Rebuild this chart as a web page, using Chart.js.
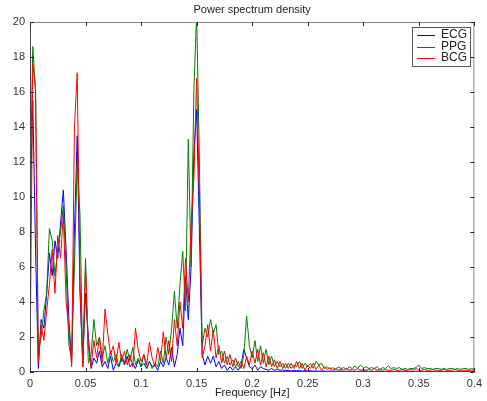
<!DOCTYPE html>
<html>
<head>
<meta charset="utf-8">
<script src="https://cdn.jsdelivr.net/npm/chart.js@4/dist/chart.umd.min.js"></script>
<style>
  html, body { margin: 0; padding: 0; background: #ffffff; }
  #wrap { width: 487px; height: 401px; }
</style>
</head>
<body>
<div id="wrap"><canvas id="psd" width="487" height="401"></canvas></div>
<script>
// frequency grid [Hz]
const freq = [
  0, 0.0025, 0.005, 0.0075, 0.01, 0.0125, 0.015, 0.0175, 0.02, 0.0225,
  0.025, 0.0275, 0.03, 0.0325, 0.035, 0.0375, 0.04, 0.0425, 0.045, 0.0475,
  0.05, 0.0525, 0.055, 0.0575, 0.06, 0.0625, 0.065, 0.0675, 0.07, 0.0725,
  0.075, 0.0775, 0.08, 0.0825, 0.085, 0.0875, 0.09, 0.0925, 0.095, 0.0975,
  0.1, 0.1025, 0.105, 0.1075, 0.11, 0.1125, 0.115, 0.1175, 0.12, 0.1225,
  0.125, 0.1275, 0.13, 0.1325, 0.135, 0.1375, 0.14, 0.1425, 0.145, 0.1475,
  0.15, 0.1525, 0.155, 0.1575, 0.16, 0.1625, 0.165, 0.1675, 0.17, 0.1725,
  0.175, 0.1775, 0.18, 0.1825, 0.185, 0.1875, 0.19, 0.1925, 0.195, 0.1975,
  0.2, 0.2025, 0.205, 0.2075, 0.21, 0.2125, 0.215, 0.2175, 0.22, 0.2225,
  0.225, 0.2275, 0.23, 0.2325, 0.235, 0.2375, 0.24, 0.2425, 0.245, 0.2475,
  0.25, 0.2525, 0.255, 0.2575, 0.26, 0.2625, 0.265, 0.2675, 0.27, 0.2725,
  0.275, 0.2775, 0.28, 0.2825, 0.285, 0.2875, 0.29, 0.2925, 0.295, 0.2975,
  0.3, 0.3025, 0.305, 0.3075, 0.31, 0.3125, 0.315, 0.3175, 0.32, 0.3225,
  0.325, 0.3275, 0.33, 0.3325, 0.335, 0.3375, 0.34, 0.3425, 0.345, 0.3475,
  0.35, 0.3525, 0.355, 0.3575, 0.36, 0.3625, 0.365, 0.3675, 0.37, 0.3725,
  0.375, 0.3775, 0.38, 0.3825, 0.385, 0.3875, 0.39, 0.3925, 0.395, 0.3975,
  0.4
];

const ecg = [
  9, 15.5, 7, 0.2, 3.0, 2.5, 4.5, 6.8, 5.5, 7.5,
  6.5, 8.5, 10.4, 7.0, 3.0, 0.5, 8.0, 13.5, 4.5, 0.5,
  4.5, 2.0, 0.2, 0.8, 0.5, 1.2, 0.3, 0.6, 0.2, 0.9,
  0.1, 0.5, 0.3, 0.8, 0.4, 0.9, 0.3, 0.5, 0.2, 0.7,
  0.3, 0.5, 0.2, 0.6, 0.3, 0.4, 0.1, 0.6, 0.3, 0.8,
  0.4, 1.4, 0.3, 1.0, 2.5, 1.5, 5.5, 3.0, 6.0, 12.5,
  15.0, 8.0, 1.0, 0.4, 0.9, 0.5, 0.9, 0.3, 0.6, 0.2,
  0.4, 0.1, 0.3, 0.1, 0.3, 0.1, 0.4, 1.3, 0.8, 0.3,
  0.2, 0.4, 0.1, 0.3, 0.2, 0.15, 0.1, 0.2, 0.1, 0.15,
  0.1, 0.12, 0.08, 0.1, 0.06, 0.1, 0.07, 0.09, 0.05, 0.08,
  0.06, 0.07, 0.05, 0.06, 0.04, 0.06, 0.05, 0.04, 0.05, 0.04,
  0.05, 0.04, 0.05, 0.03, 0.04, 0.05, 0.04, 0.03, 0.04, 0.05,
  0.04, 0.05, 0.03, 0.04, 0.03, 0.04, 0.05, 0.03, 0.04, 0.03,
  0.04, 0.03, 0.04, 0.03, 0.04, 0.05, 0.03, 0.04, 0.03, 0.04,
  0.03, 0.04, 0.03, 0.04, 0.03, 0.03, 0.04, 0.03, 0.04, 0.03,
  0.03, 0.04, 0.03, 0.03, 0.04, 0.03, 0.03, 0.04, 0.03, 0.03,
  0.03
];

const ppg = [
  10, 18.6, 16.0, 1.0, 2.0, 3.5, 4.5, 8.2, 7.5, 5.5,
  7.0, 8.0, 9.5, 6.0, 1.5, 0.8, 6.0, 12.0, 9.0, 0.3,
  6.5, 0.5, 1.0, 3.0, 1.5, 2.0, 0.8, 1.5, 0.5, 1.2,
  0.6, 1.0, 0.3, 1.0, 0.5, 1.3, 0.6, 1.4, 0.4, 0.8,
  0.3, 1.0, 0.2, 0.6, 0.2, 0.5, 0.3, 1.2, 0.5, 2.0,
  1.0, 2.5, 4.6, 2.5, 5.0, 6.9, 3.5, 13.3, 6.0, 16.0,
  20.5, 12.0, 1.5, 2.5, 2.0, 3.0, 2.2, 2.7, 1.0, 1.2,
  0.5, 0.9, 0.4, 0.7, 0.3, 0.6, 0.2, 1.0, 3.2, 1.5,
  0.8, 1.8, 0.6, 1.5, 0.5, 1.3, 0.4, 0.9, 0.3, 0.6,
  0.3, 0.5, 0.2, 0.5, 0.2, 0.4, 0.3, 0.6, 0.2, 0.5,
  0.3, 0.5, 0.2, 0.6, 0.4, 0.5, 0.2, 0.3, 0.15, 0.25,
  0.15, 0.3, 0.2, 0.25, 0.15, 0.3, 0.2, 0.35, 0.2, 0.4,
  0.25, 0.3, 0.2, 0.25, 0.2, 0.3, 0.15, 0.25, 0.2, 0.35,
  0.2, 0.25, 0.2, 0.25, 0.15, 0.2, 0.15, 0.2, 0.2, 0.25,
  0.4, 0.2, 0.25, 0.2, 0.2, 0.15, 0.2, 0.2, 0.15, 0.2,
  0.15, 0.2, 0.2, 0.15, 0.2, 0.15, 0.2, 0.2, 0.15, 0.2,
  0.15
];

const bcg = [
  0.3, 17.6, 16.2, 0.5, 2.7, 1.8, 3.5, 5.0, 7.0, 4.5,
  7.8, 6.5, 9.0, 4.0, 2.5, 0.3, 14.0, 17.1, 5.0, 0.3,
  6.0, 1.5, 0.3, 1.8, 0.8, 2.0, 0.5, 3.6, 2.2, 1.0,
  1.5, 0.5, 1.7, 0.6, 1.2, 0.4, 1.0, 0.3, 2.5, 1.2,
  0.6, 1.0, 0.4, 1.7, 0.8, 0.3, 1.4, 0.6, 2.3, 0.8,
  1.8, 0.6, 3.0, 1.5, 4.0, 2.5, 6.5, 4.0, 8.5, 11.0,
  16.8, 10.0, 0.8, 1.5, 2.7, 1.2, 2.4, 0.8, 1.5, 0.5,
  1.2, 0.4, 1.0, 0.3, 0.8, 0.3, 0.6, 0.2, 0.9, 0.4,
  1.2, 0.5, 1.3, 0.4, 1.1, 0.3, 0.9, 0.3, 0.7, 0.2,
  0.6, 0.2, 0.5, 0.2, 0.5, 0.2, 0.6, 0.2, 0.5, 0.1,
  0.4, 0.2, 0.5, 0.15, 0.4, 0.1, 0.3, 0.15, 0.25, 0.1,
  0.2, 0.1, 0.15, 0.1, 0.2, 0.1, 0.15, 0.1, 0.2, 0.1,
  0.15, 0.1, 0.15, 0.1, 0.2, 0.1, 0.15, 0.1, 0.15, 0.1,
  0.1, 0.15, 0.1, 0.1, 0.15, 0.1, 0.1, 0.15, 0.1, 0.2,
  0.1, 0.1, 0.15, 0.1, 0.1, 0.15, 0.1, 0.1, 0.1, 0.15,
  0.1, 0.1, 0.1, 0.15, 0.1, 0.1, 0.1, 0.1, 0.1, 0.1,
  0.1
];

const seriesNames = ['ECG', 'PPG', 'BCG'];
const seriesColors = ['#0000ff', '#008000', '#ff0000'];
const chartTitle = 'Power spectrum density';
const xTitle = 'Frequency [Hz]';

const FONT = '"Liberation Sans", Arial, sans-serif';
const toPoints = ys => freq.map((f, i) => ({ x: f, y: ys[i] }));

// MATLAB style box: frame, inward ticks, titles, legend
const matlabBox = {
  id: 'matlabBox',
  afterDraw(chart) {
    const { ctx, chartArea: a, scales } = chart;
    ctx.save();
    ctx.lineWidth = 1;
    // top/right grey, left/bottom darker
    ctx.strokeStyle = '#8a8a8a';
    ctx.beginPath();
    ctx.moveTo(a.left, a.top + 0.5); ctx.lineTo(a.right, a.top + 0.5);
    ctx.moveTo(a.right - 0.5, a.top); ctx.lineTo(a.right - 0.5, a.bottom);
    ctx.stroke();
    ctx.strokeStyle = '#444444';
    ctx.beginPath();
    ctx.moveTo(a.left + 0.5, a.top); ctx.lineTo(a.left + 0.5, a.bottom);
    ctx.moveTo(a.left, a.bottom - 0.5); ctx.lineTo(a.right, a.bottom - 0.5);
    ctx.stroke();

    ctx.strokeStyle = '#222222';
    scales.x.ticks.forEach(t => {
      const px = Math.round(scales.x.getPixelForValue(t.value)) + 0.5;
      ctx.beginPath();
      ctx.moveTo(px, a.bottom); ctx.lineTo(px, a.bottom - 4);
      ctx.moveTo(px, a.top); ctx.lineTo(px, a.top + 4);
      ctx.stroke();
    });
    scales.y.ticks.forEach(t => {
      const py = Math.round(scales.y.getPixelForValue(t.value)) + 0.5;
      ctx.beginPath();
      ctx.moveTo(a.left, py); ctx.lineTo(a.left + 4, py);
      ctx.moveTo(a.right, py); ctx.lineTo(a.right - 4, py);
      ctx.stroke();
    });

    // titles
    ctx.fillStyle = '#222222';
    ctx.font = '11px ' + FONT;
    ctx.textAlign = 'center';
    ctx.textBaseline = 'middle';
    ctx.fillText(chartTitle, (a.left + a.right) / 2, 10);
    ctx.fillText(xTitle, (a.left + a.right) / 2, 393);

    // legend box
    const lx = 412, ly = 27, lw = 58, lh = 39;
    ctx.fillStyle = '#ffffff';
    ctx.fillRect(lx, ly, lw, lh);
    ctx.strokeStyle = '#555555';
    ctx.strokeRect(lx + 0.5, ly + 0.5, lw, lh);
    ctx.textAlign = 'left';
    ctx.font = '12px ' + FONT;
    chart.data.datasets.forEach((ds, i) => {
      const y = ly + 8 + i * 11.5;
      ctx.strokeStyle = ds.borderColor;
      ctx.beginPath();
      ctx.moveTo(lx + 5, Math.round(y) + 0.5);
      ctx.lineTo(lx + 23, Math.round(y) + 0.5);
      ctx.stroke();
      ctx.fillStyle = '#222222';
      ctx.fillText(ds.label, lx + 29, y);
    });
    ctx.restore();
  }
};

new Chart(document.getElementById('psd'), {
  type: 'line',
  data: {
    datasets: [ecg, ppg, bcg].map((ys, i) => ({
      label: seriesNames[i],
      data: toPoints(ys),
      borderColor: seriesColors[i],
      borderWidth: 1,
      pointRadius: 0,
      tension: 0,
      fill: false,
      order: 3 - i
    }))
  },
  options: {
    animation: false,
    responsive: false,
    layout: { padding: { left: 0, right: 12, top: 22, bottom: 0 } },
    plugins: {
      legend: { display: false },
      title: { display: false },
      tooltip: { enabled: false }
    },
    scales: {
      x: {
        type: 'linear',
        min: 0,
        max: 0.4,
        grid: { display: false, drawTicks: false },
        border: { display: false },
        afterFit: s => { s.height = 29; },
        ticks: {
          stepSize: 0.05,
          padding: 5,
          color: '#333333',
          font: { family: FONT, size: 11 },
          maxRotation: 0,
          callback: v => String(+v.toFixed(2))
        }
      },
      y: {
        min: 0,
        max: 20,
        grid: { display: false, drawTicks: false },
        border: { display: false },
        afterFit: s => { s.width = 30; },
        ticks: {
          stepSize: 2,
          padding: 5,
          color: '#333333',
          font: { family: FONT, size: 11 }
        }
      }
    }
  },
  plugins: [matlabBox]
});
</script>
</body>
</html>
